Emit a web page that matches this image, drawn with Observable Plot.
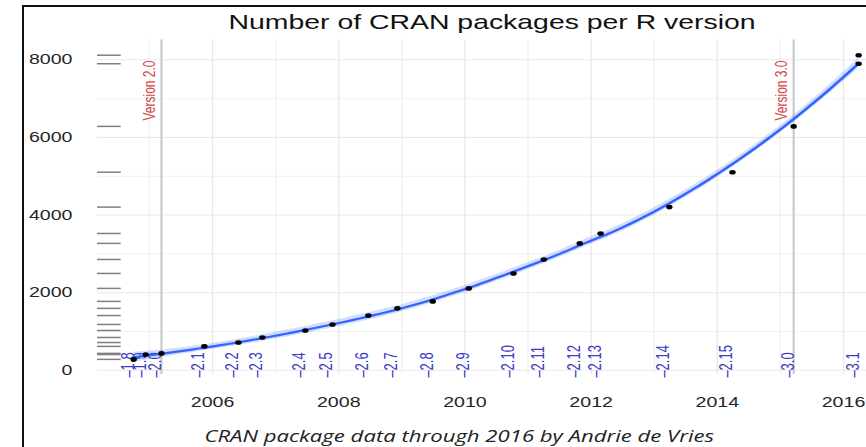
<!DOCTYPE html>
<html>
<head>
<meta charset="utf-8">
<script src="https://cdn.jsdelivr.net/npm/d3@7"></script>
<script src="https://cdn.jsdelivr.net/npm/@observablehq/plot@0.6"></script>
<style>
  html, body { margin: 0; padding: 0; background: #fff; overflow: hidden; width: 866px; height: 447px; }
  #fig { position: absolute; left: 0; top: 0; width: 634px; height: 447px; transform: scaleX(1.4); transform-origin: 0 0; }
  #chart { position: absolute; left: 0; top: 0; }
  #title { position: absolute; left: 69px; width: 565px; top: 11px; line-height: 20px; text-align: center;
           font: 20.3px "Liberation Sans", Arial, sans-serif; color: #111; }
  #caption { position: absolute; left: 146px; top: 425px; line-height: 17px; white-space: nowrap;
             font: italic 15.8px "Open Sans", "DejaVu Sans", sans-serif; color: #222; }
  #frame { position: absolute; left: 22px; top: 5px; width: 900px; height: 500px; z-index: 2;
           border-left: 2px solid #111; border-top: 2px solid #111; pointer-events: none; }
</style>
</head>
<body>
<div id="fig">
  <div id="chart"></div>
  <div id="title">Number of CRAN packages per R version</div>
  <div id="caption">CRAN package data through 2016 by Andrie de Vries</div>
</div>
<div id="frame"></div>
<script>
// R versions and the date (decimal year) of each CRAN snapshot
const versions = ["1.8", "1.9", "2.0", "2.1", "2.2", "2.3", "2.4", "2.5", "2.6", "2.7",
                  "2.8", "2.9", "2.10", "2.11", "2.12", "2.13", "2.14", "2.15", "3.0", "3.1"];
const versionDates = [2004.75, 2004.94, 2005.19, 2005.87, 2006.41, 2006.79, 2007.47, 2007.90, 2008.47, 2008.93,
                      2009.49, 2010.06, 2010.77, 2011.25, 2011.82, 2012.15, 2013.24, 2014.24, 2015.21, 2016.24];

// Package counts; the 3.1 repository was counted twice
const snapshotDates = [...versionDates, 2016.24];
const packageCounts = [280, 405, 435, 615, 715, 845, 1025, 1180, 1410, 1595,
                       1775, 2110, 2495, 2855, 3270, 3525, 4205, 5105, 6285, 7900, 8120];

// Major releases marked with a vertical rule
const majorReleases = ["2.0", "3.0"];

// Axis ticks and grid
const yTicks = [0, 2000, 4000, 6000, 8000];
const yMinor = [1000, 3000, 5000, 7000];
const xTicks = [2006, 2008, 2010, 2012, 2014, 2016];
const xMinor = [2005, 2007, 2009, 2011, 2013, 2015];

const points = snapshotDates.map((date, i) => ({date, count: packageCounts[i]}));
const releases = versions.map((version, i) => ({version, date: versionDates[i]}));
const majors = releases.filter(d => majorReleases.includes(d.version));

// Local quadratic regression (loess, span 0.75) with a 95% band
function inv3(m) {
  const [[a, b, c], [d, e, f], [g, h, k]] = m;
  const A = e * k - f * h, B = -(d * k - f * g), C = d * h - e * g;
  const det = a * A + b * B + c * C;
  return [
    [A / det, -(b * k - c * h) / det, (b * f - c * e) / det],
    [B / det, (a * k - c * g) / det, -(a * f - c * d) / det],
    [C / det, -(a * h - b * g) / det, (a * e - b * d) / det]
  ];
}
function smootherWeights(xs, x0, span) {
  const n = xs.length, q = Math.floor(n * span);
  const dist = xs.map(x => Math.abs(x - x0));
  const h = dist.slice().sort((a, b) => a - b)[q - 1] * 1.0001;
  const w = dist.map(di => { const u = di / h; return u < 1 ? (1 - u * u * u) ** 3 : 0; });
  const S = [[0, 0, 0], [0, 0, 0], [0, 0, 0]];
  xs.forEach((x, i) => {
    const t = x - x0, basis = [1, t, t * t];
    for (let a = 0; a < 3; a++) for (let b = 0; b < 3; b++) S[a][b] += w[i] * basis[a] * basis[b];
  });
  const M = inv3(S);
  return xs.map((x, i) => { const t = x - x0; return w[i] * (M[0][0] + M[0][1] * t + M[0][2] * t * t); });
}
const xs = points.map(d => d.date), ys = points.map(d => d.count);
const span = 0.75;
let rss = 0, trace = 0;
xs.forEach((x0, j) => {
  const l = smootherWeights(xs, x0, span);
  const fit = d3.sum(l, (li, i) => li * ys[i]);
  rss += (ys[j] - fit) ** 2;
  trace += l[j];
});
const sigma = Math.sqrt(rss / (xs.length - trace));
const [xLo, xHi] = d3.extent(xs);
const smooth = d3.range(101).map(k => {
  const x0 = xLo + (xHi - xLo) * k / 100;
  const l = smootherWeights(xs, x0, span);
  const fit = d3.sum(l, (li, i) => li * ys[i]);
  const se = sigma * Math.sqrt(d3.sum(l, li => li * li));
  return {date: x0, fit, lo: fit - 2.1 * se, hi: fit + 2.1 * se};
});

const xDomain = [2004.18, 2016.71];
const yDomain = [-112, 8512];
const rugEnd = xDomain[0] + 0.03 * (xDomain[1] - xDomain[0]);

const chart = Plot.plot({
  width: 634,
  height: 447,
  marginLeft: 69.3,
  marginRight: 0,
  marginTop: 39.5,
  marginBottom: 72.9,
  style: {fontFamily: "'Liberation Sans', Arial, sans-serif", fontSize: "14px", color: "#262626", background: "none"},
  x: {domain: xDomain, ticks: xTicks, tickSize: 0, tickPadding: 22.5, tickFormat: "d", label: null},
  y: {domain: yDomain, ticks: yTicks, tickSize: 0, tickPadding: 18, tickFormat: "d", label: null},
  marks: [
    Plot.ruleY(yMinor, {stroke: "#f2f2f2", strokeWidth: 1}),
    Plot.ruleX(xMinor, {stroke: "#f2f2f2", strokeWidth: 1}),
    Plot.ruleY(yTicks, {stroke: "#e9e9e9", strokeWidth: 1}),
    Plot.ruleX(xTicks, {stroke: "#e9e9e9", strokeWidth: 1}),
    Plot.ruleX(majors, {x: "date", stroke: "#c9c9c9", strokeWidth: 1.5}),
    Plot.text(majors, {x: "date", text: d => `Version ${d.version}`, frameAnchor: "top", dy: 20.5, dx: -13,
                       rotate: -90, textAnchor: "end", fill: "#d04848", fontSize: 12}),
    Plot.ruleY(packageCounts, {y: d => d, x1: xDomain[0], x2: rugEnd, stroke: "#808080", strokeWidth: 1.5}),
    Plot.text(releases, {x: "date", text: d => `–${d.version}`, frameAnchor: "bottom", dy: 3,
                         rotate: -90, textAnchor: "start", fill: "#3c3cc8", fontSize: 13}),
    Plot.areaY(smooth, {x: "date", y1: "lo", y2: "hi", fill: "#3366ff", fillOpacity: 0.22}),
    Plot.line(smooth, {x: "date", y: "fit", stroke: "#3366ff", strokeWidth: 2.2}),
    Plot.dot(points, {x: "date", y: "count", r: 2.3, fill: "#000", stroke: "none"})
  ]
});
document.getElementById("chart").appendChild(chart);
</script>
</body>
</html>
